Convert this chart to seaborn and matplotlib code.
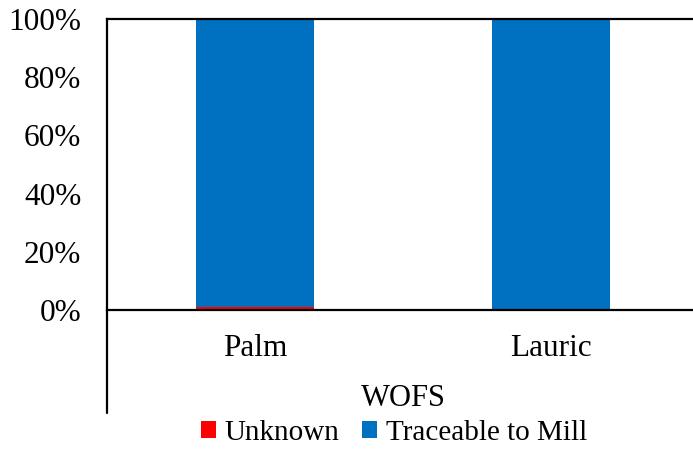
import matplotlib
matplotlib.use("Agg")
import matplotlib.pyplot as plt
import seaborn as sns
from matplotlib.patches import Patch
from matplotlib.lines import Line2D
from matplotlib.ticker import FuncFormatter

# data (percent)
categories = ["Palm", "Lauric"]
unknown = [1.0, 0.0]
traceable = [99.0, 100.0]
group_label = "WOFS"

red = "#FF0000"
blue = "#0070C0"

sns.set_theme(style="white")
plt.rcParams['font.family'] = ['Liberation Serif', 'DejaVu Serif']
plt.rcParams['text.color'] = 'black'

fig = plt.figure(figsize=(6.93, 4.5), dpi=100)
# axes runs a little past the right edge, like the original
ax = fig.add_axes([107/693, 1-310/450, 592/693, 291/450])

totals = [u + t for u, t in zip(unknown, traceable)]
sns.barplot(x=categories, y=totals, color=blue, width=0.4, ax=ax, saturation=1, linewidth=0)
sns.barplot(x=categories, y=unknown, color=red, width=0.4, ax=ax, saturation=1, linewidth=0)

ax.set_ylim(0, 100)
ax.set_xlim(-0.5, 1.5)
ax.set_yticks([0, 20, 40, 60, 80, 100])
ax.yaxis.set_major_formatter(FuncFormatter(lambda v, p: f"{v:.0f}%"))
ax.tick_params(axis='y', length=0, pad=18.5, labelsize=22.5, colors='black')
ax.tick_params(axis='x', length=0, pad=17, labelsize=22.5, colors='black')
ax.set_xlabel("")
ax.set_ylabel("")

for s in ['top', 'bottom', 'left']:
    ax.spines[s].set_color('black')
    ax.spines[s].set_linewidth(1.6)
ax.spines['right'].set_visible(False)

# left axis line goes down past the category labels
fig.add_artist(Line2D([107/693, 107/693], [1-413/450, 1-310/450],
                      transform=fig.transFigure, color='black', lw=1.6))

fig.text(403/693, 1-398/450, group_label, ha='center', va='center', fontsize=22)

handles = [Patch(facecolor=red, edgecolor='none', label="Unknown"),
           Patch(facecolor=blue, edgecolor='none', label="Traceable to Mill")]
fig.legend(handles=handles, loc='center', bbox_to_anchor=(394/693, 1-433/450),
           ncol=2, frameon=False, fontsize=21, handlelength=0.5, handleheight=0.5,
           handletextpad=0.3, columnspacing=0.8, borderpad=0, borderaxespad=0)

fig.savefig("out.png", dpi=100)
